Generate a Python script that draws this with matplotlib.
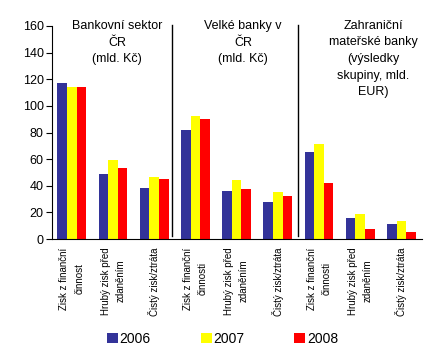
import matplotlib

matplotlib.use("Agg")

import matplotlib.pyplot as plt
import numpy as np
from matplotlib.patches import Patch

plt.rcParams["font.family"] = ["Liberation Sans", "DejaVu Sans"]

# Values (bars per category, one list per year).
categories = [
    "Zisk z finanční\nčinnost",
    "Hrubý zisk před\nzdaněním",
    "Čistý zisk/ztráta",
    "Zisk z finanční\nčinnosti",
    "Hrubý zisk před\nzdaněním",
    "Čistý zisk/ztráta",
    "Zisk z finanční\nčinnosti",
    "Hrubý zisk před\nzdaněním",
    "Čistý zisk/ztráta",
]
years = ["2006", "2007", "2008"]
v2006 = [117, 49, 38.5, 82, 36, 28, 65.5, 16, 11.5]
v2007 = [114, 59.5, 46.5, 92.5, 44.5, 35.5, 71.5, 19, 13.5]
v2008 = [114, 53.5, 45, 90, 37.5, 32.5, 42, 7.5, 5.5]
colors = ["#333399", "#FFFF00", "#FF0000"]

panel_titles = [
    "Bankovní sektor\nČR\n(mld. Kč)",
    "Velké banky v\nČR\n(mld. Kč)",
    "Zahraniční\nmateřské banky\n(výsledky\nskupiny, mld.\nEUR)",
]
yticks = [0, 20, 40, 60, 80, 100, 120, 140, 160]

fig = plt.figure(figsize=(4.45, 3.52), dpi=100)
ax = fig.add_axes([52 / 445, 113 / 352, 370 / 445, 213 / 352])

x = np.arange(len(categories))
width = 0.233
for i, (vals, col) in enumerate(zip([v2006, v2007, v2008], colors)):
    ax.bar(x + (i - 1) * width, vals, width, color=col, linewidth=0)

# Panel separators
for sep in (2.43, 5.49):
    ax.plot([sep, sep], [2, 161], color="black", linewidth=1, clip_on=False)

ax.set_xlim(-0.48, 8.5)
ax.set_ylim(0, 160)
ax.set_yticks(yticks)
ax.tick_params(axis="y", direction="out", length=4, labelsize=9, pad=2)
ax.set_xticks(x)
ax.set_xticklabels(categories, rotation=90, fontsize=7, va="top", ha="center",
                   multialignment="center", linespacing=1.6)
ax.tick_params(axis="x", length=0, pad=6)
for side in ("top", "right"):
    ax.spines[side].set_visible(False)

for title, tx in zip(panel_titles, (117, 243, 373)):
    fig.text(tx / 445, 1 - 20 / 352, title, ha="center", va="top",
             fontsize=9, linespacing=1.5)

handles = [Patch(facecolor=c, edgecolor="none") for c in colors]
fig.legend(handles, years, loc="center", bbox_to_anchor=(0.5, 13 / 352), ncol=3,
           frameon=False, fontsize=10, handlelength=0.8, handleheight=0.8,
           handletextpad=0.1, columnspacing=3.6)

fig.savefig("out.png", dpi=100)
